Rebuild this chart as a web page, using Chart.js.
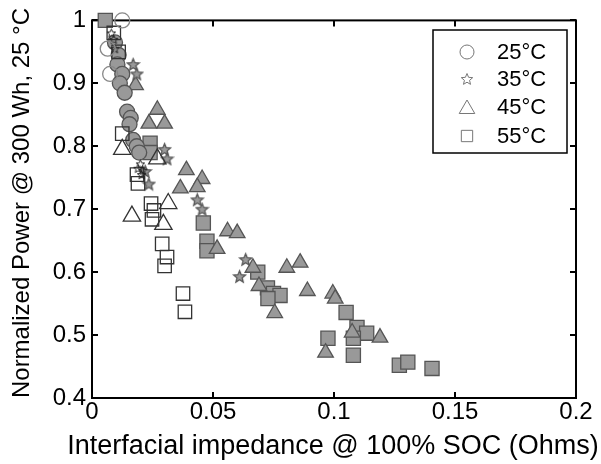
<!DOCTYPE html>
<html>
<head>
<meta charset="utf-8">
<script src="https://cdn.jsdelivr.net/npm/chart.js@4.4.1/dist/chart.umd.min.js"></script>
<style>
  html, body { margin: 0; padding: 0; background: #fff; }
</style>
</head>
<body>
<canvas id="chart" width="601" height="464"></canvas>
<script>
// axis ticks
const xTicks = [0, 0.05, 0.1, 0.15, 0.2];
const xTickLabels = ['0', '0.05', '0.1', '0.15', '0.2'];
const yTicks = [0.4, 0.5, 0.6, 0.7, 0.8, 0.9, 1];
const yTickLabels = ['0.4', '0.5', '0.6', '0.7', '0.8', '0.9', '1'];

const xTitle = 'Interfacial impedance @ 100% SOC (Ohms)';
const yTitle = 'Normalized Power @ 300 Wh, 25 °C';
const legendLabels = ['25°C', '35°C', '45°C', '55°C'];

// 25 C - circles
const circlesFilled = [[0.0095, 0.965], [0.011, 0.945], [0.0105, 0.93], [0.0125, 0.915], [0.0115, 0.9],
  [0.0135, 0.885], [0.0145, 0.855], [0.016, 0.845], [0.0155, 0.835], [0.017, 0.81], [0.0185, 0.8], [0.0195, 0.79]];
const circlesOpen = [[0.0125, 1.0], [0.0065, 0.955], [0.0075, 0.915]];

// 35 C - stars
const starsFilled = [[0.017, 0.93], [0.0185, 0.915], [0.030, 0.795], [0.031, 0.78], [0.022, 0.76], [0.0235, 0.74],
  [0.0435, 0.715], [0.0455, 0.70], [0.0635, 0.62], [0.061, 0.593]];
const starsOpen = [[0.008, 0.98], [0.009, 0.97], [0.0095, 0.955], [0.019, 0.765], [0.0205, 0.755], [0.021, 0.762], [0.02, 0.772]];

// 45 C - triangles
const trianglesFilled = [[0.018, 0.897], [0.027, 0.858], [0.030, 0.836], [0.0235, 0.836], [0.039, 0.762], [0.0455, 0.748],
  [0.0365, 0.733], [0.0435, 0.735], [0.056, 0.665], [0.060, 0.662], [0.0517, 0.637], [0.0665, 0.607], [0.069, 0.578],
  [0.0755, 0.535], [0.0805, 0.607], [0.086, 0.615], [0.089, 0.57], [0.0995, 0.566], [0.1005, 0.558], [0.1075, 0.504],
  [0.119, 0.496], [0.0965, 0.472]];
const trianglesOpen = [[0.0125, 0.795], [0.027, 0.78], [0.0165, 0.689], [0.0315, 0.709], [0.0295, 0.676]];

// 55 C - squares
const squaresFilled = [[0.0055, 1.0], [0.024, 0.805], [0.024, 0.79], [0.046, 0.678], [0.0475, 0.649], [0.0475, 0.634],
  [0.0685, 0.60], [0.0725, 0.575], [0.075, 0.566], [0.0777, 0.563], [0.0727, 0.558], [0.105, 0.536], [0.1095, 0.512],
  [0.1135, 0.503], [0.108, 0.495], [0.108, 0.468], [0.0975, 0.495], [0.127, 0.452], [0.1305, 0.457], [0.1405, 0.447]];
const squaresOpen = [[0.009, 0.98], [0.011, 0.95], [0.0125, 0.82], [0.0186, 0.755], [0.019, 0.741], [0.0244, 0.709],
  [0.0256, 0.698], [0.0248, 0.684], [0.029, 0.645], [0.031, 0.624], [0.030, 0.61], [0.0376, 0.566], [0.0384, 0.537]];

const FONT = '"Liberation Sans", Arial, sans-serif';
const GRAY = '#999999';
const GRAY_EDGE = '#555555';
const OPEN_EDGE = '#333333';

function makeStar(size, fill, stroke, lw) {
  const c = document.createElement('canvas');
  c.width = size; c.height = size;
  const g = c.getContext('2d');
  const cx = size / 2, cy = size / 2 + 0.5, R = size / 2 - lw, r = R * 0.45;
  g.beginPath();
  for (let i = 0; i < 10; i++) {
    const a = -Math.PI / 2 + i * Math.PI / 5;
    const rr = i % 2 ? r : R;
    g.lineTo(cx + Math.cos(a) * rr, cy + Math.sin(a) * rr);
  }
  g.closePath();
  if (fill) { g.fillStyle = fill; g.fill(); }
  g.strokeStyle = stroke; g.lineWidth = lw; g.stroke();
  return c;
}

const starFilledImg = makeStar(15, GRAY, GRAY_EDGE, 1.3);
const starOpenImg = makeStar(11, null, '#222', 1);
const starLegendImg = makeStar(14, null, '#777', 1);

function pts(arr) { return arr.map(p => ({x: p[0], y: p[1]})); }

function filledSet(label, data, style, r) {
  return { label, data: pts(data), pointStyle: style, pointRadius: r, pointBackgroundColor: GRAY,
    pointBorderColor: GRAY_EDGE, pointBorderWidth: 1.3, clip: false, showLine: false };
}
function openSet(label, data, style, r, edge) {
  return { label, data: pts(data), pointStyle: style, pointRadius: r, pointBackgroundColor: 'rgba(0,0,0,0)',
    pointBorderColor: edge || OPEN_EDGE, pointBorderWidth: 1.3, clip: false, showLine: false };
}

const frame = {
  id: 'frame',
  beforeDatasetsDraw(chart) {
    const {ctx, chartArea: a, scales: {x, y}} = chart;
    ctx.save();
    ctx.strokeStyle = '#000';
    ctx.lineWidth = 2;
    ctx.strokeRect(a.left, a.top, a.right - a.left, a.bottom - a.top);
    ctx.beginPath();
    xTicks.forEach(v => {
      const px = Math.round(x.getPixelForValue(v));
      ctx.moveTo(px, a.bottom); ctx.lineTo(px, a.bottom - 6);
      ctx.moveTo(px, a.top); ctx.lineTo(px, a.top + 6);
    });
    yTicks.forEach(v => {
      const py = Math.round(y.getPixelForValue(v));
      ctx.moveTo(a.left, py); ctx.lineTo(a.left + 6, py);
      ctx.moveTo(a.right, py); ctx.lineTo(a.right - 6, py);
    });
    ctx.stroke();
    ctx.restore();
  }
};

// axis titles drawn here so they are not squeezed to the axis length
const axisTitles = {
  id: 'axisTitles',
  afterDraw(chart) {
    const {ctx, chartArea: a} = chart;
    ctx.save();
    ctx.fillStyle = '#000';
    ctx.textAlign = 'center';
    ctx.textBaseline = 'middle';
    ctx.font = '27px ' + FONT;
    ctx.fillText(xTitle, (a.left + a.right) / 2 - 1, 447);
    ctx.translate(22, 203);
    ctx.rotate(-Math.PI / 2);
    ctx.font = '24px ' + FONT;
    ctx.fillText(yTitle, 0, 0);
    ctx.restore();
  }
};

const boxLegend = {
  id: 'boxLegend',
  afterDraw(chart) {
    const ctx = chart.ctx;
    const bx = 433, by = 30, bw = 134, bh = 123;
    ctx.save();
    ctx.fillStyle = '#fff';
    ctx.fillRect(bx, by, bw, bh);
    ctx.strokeStyle = '#000';
    ctx.lineWidth = 1.5;
    ctx.strokeRect(bx, by, bw, bh);
    const styles = ['circle', starLegendImg, 'triangle', 'rect'];
    const radii = [7, 7, 9, 8];
    const rowY = [52, 79, 107, 136];
    ctx.strokeStyle = '#777';
    ctx.lineWidth = 1;
    ctx.fillStyle = 'rgba(0,0,0,0)';
    styles.forEach((s, i) => {
      const yy = s === 'triangle' ? rowY[i] + 2 : rowY[i];
      Chart.helpers.drawPoint(ctx, {pointStyle: s, radius: radii[i], rotation: 0, borderWidth: 1}, 467, yy);
    });
    ctx.fillStyle = '#000';
    ctx.font = '22px ' + FONT;
    ctx.textBaseline = 'middle';
    legendLabels.forEach((t, i) => ctx.fillText(t, 497, rowY[i] + 1));
    ctx.restore();
  }
};

new Chart(document.getElementById('chart'), {
  type: 'scatter',
  data: {
    datasets: [
      openSet('25°C open', circlesOpen, 'circle', 7.5, '#888'),
      openSet('35°C open', starsOpen, starOpenImg, 5),
      openSet('45°C open', trianglesOpen, 'triangle', 10),
      openSet('55°C open', squaresOpen, 'rect', 9.5),
      filledSet('25°C', circlesFilled, 'circle', 7.5),
      filledSet('35°C', starsFilled, starFilledImg, 7),
      filledSet('45°C', trianglesFilled, 'triangle', 9),
      filledSet('55°C', squaresFilled, 'rect', 10)
    ]
  },
  options: {
    responsive: false,
    animation: false,
    devicePixelRatio: 1,
    layout: { padding: { top: 18, right: 25, left: 0, bottom: 0 } },
    plugins: { legend: { display: false }, tooltip: { enabled: false } },
    scales: {
      x: {
        type: 'linear', min: 0, max: 0.2,
        afterBuildTicks: s => { s.ticks = xTicks.map(v => ({value: v})); },
        afterFit: s => { s.height = 66; },
        ticks: { callback: (v, i) => xTickLabels[i], color: '#000', font: { family: FONT, size: 24 }, padding: 0, maxRotation: 0 },
        grid: { drawOnChartArea: false, drawTicks: false },
        border: { display: false },
        title: { display: false }
      },
      y: {
        type: 'linear', min: 0.4, max: 1,
        afterBuildTicks: s => { s.ticks = yTicks.map(v => ({value: v})); },
        afterFit: s => { s.width = 92; },
        ticks: { callback: (v, i) => yTickLabels[i], color: '#000', font: { family: FONT, size: 24 }, padding: 6 },
        grid: { drawOnChartArea: false, drawTicks: false },
        border: { display: false },
        title: { display: false }
      }
    }
  },
  plugins: [frame, axisTitles, boxLegend]
});
</script>
</body>
</html>
